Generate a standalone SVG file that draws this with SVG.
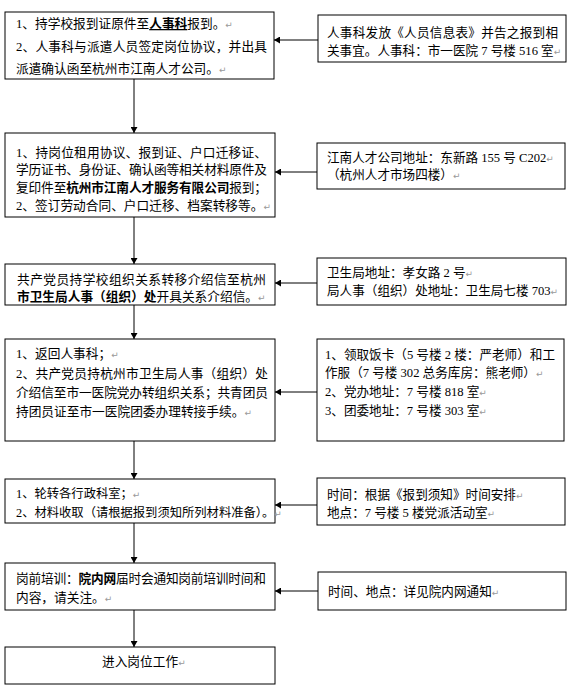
<svg xmlns="http://www.w3.org/2000/svg" width="572" height="690" viewBox="0 0 572 690">
<style>
  .box { fill: #fff; stroke: #000; stroke-width: 1; }
  .t { font-family: "Liberation Serif", "Noto Sans CJK SC", serif; fill: #000; font-size: 12.7px; }
  .l123 { font-size: 12.3px; }
  .r { font-size: 12.6px; }
  .b { font-weight: bold; }
  .pm { font-family: "DejaVu Sans", sans-serif; font-size: 9px; fill: #999; }
  .conn { stroke: #000; stroke-width: 1; fill: none; marker-end: url(#ah); }
</style>
<defs>
  <marker id="ah" viewBox="0 0 6 7" refX="6" refY="3.5" markerWidth="6" markerHeight="7" markerUnits="userSpaceOnUse" orient="auto">
    <path d="M0,0 L6,3.5 L0,7 z" fill="#000"/>
  </marker>
</defs>
<rect width="572" height="690" fill="#fff"/>

<g id="connectors">
  <line class="conn" x1="134" y1="79" x2="134" y2="133"/>
  <line class="conn" x1="134" y1="217" x2="134" y2="264"/>
  <line class="conn" x1="134" y1="305" x2="134" y2="339"/>
  <line class="conn" x1="134" y1="441" x2="134" y2="479"/>
  <line class="conn" x1="134" y1="523" x2="134" y2="563"/>
  <line class="conn" x1="134" y1="610" x2="134" y2="647"/>
  <line class="conn" x1="318" y1="40" x2="274" y2="40"/>
  <line class="conn" x1="317" y1="172" x2="275" y2="172"/>
  <line class="conn" x1="317" y1="283" x2="275" y2="283"/>
  <line class="conn" x1="317" y1="392" x2="275" y2="392"/>
  <line class="conn" x1="317" y1="505" x2="275" y2="505"/>
  <line class="conn" x1="318" y1="591" x2="275" y2="591"/>
</g>

<g id="step1">
  <rect class="box" x="5" y="12" width="269" height="67"/>
  <text class="t" x="16" y="28">1、持学校报到证原件至<tspan class="b" text-decoration="underline">人事科</tspan>报到。<tspan class="pm">↵</tspan></text>
  <text class="t" x="16" y="51" textLength="251" lengthAdjust="spacing">2、人事科与派遣人员签定岗位协议，并出具</text>
  <text class="t" x="16" y="73">派遣确认函至杭州市江南人才公司。<tspan class="pm">↵</tspan></text>
</g>

<g id="info1">
  <rect class="box" x="318" y="15" width="248" height="47"/>
  <text class="t r" x="327" y="37" textLength="231" lengthAdjust="spacing">人事科发放《人员信息表》并告之报到相</text>
  <text class="t r" x="327" y="55">关事宜。人事科：市一医院 7 号楼 516 室<tspan class="pm">↵</tspan></text>
</g>

<g id="step2">
  <rect class="box" x="5" y="133" width="270" height="84"/>
  <text class="t" x="16" y="157" textLength="251" lengthAdjust="spacing">1、持岗位租用协议、报到证、户口迁移证、</text>
  <text class="t" x="16" y="174" textLength="251" lengthAdjust="spacing">学历证书、身份证、确认函等相关材料原件及</text>
  <text class="t" x="16" y="192" textLength="251" lengthAdjust="spacing">复印件至<tspan class="b">杭州市江南人才服务有限公司</tspan>报到；</text>
  <text class="t" x="16" y="210">2、签订劳动合同、户口迁移、档案转移等。<tspan class="pm">↵</tspan></text>
</g>

<g id="info2">
  <rect class="box" x="317" y="143" width="248" height="46"/>
  <text class="t r" x="327" y="162">江南人才公司地址：东新路 155 号 C202<tspan class="pm">↵</tspan></text>
  <text class="t r" x="327" y="179">（杭州人才市场四楼）<tspan class="pm">↵</tspan></text>
</g>

<g id="step3">
  <rect class="box" x="5" y="264" width="270" height="41"/>
  <text class="t" x="17" y="284" textLength="249" lengthAdjust="spacing">共产党员持学校组织关系转移介绍信至杭州</text>
  <text class="t" x="17" y="301"><tspan class="b">市卫生局人事（组织）处</tspan>开具关系介绍信。<tspan class="pm">↵</tspan></text>
</g>

<g id="info3">
  <rect class="box" x="317" y="258" width="249" height="47"/>
  <text class="t r" x="327" y="277">卫生局地址：孝女路 2 号<tspan class="pm">↵</tspan></text>
  <text class="t r" x="327" y="295">局人事（组织）处地址：卫生局七楼 703<tspan class="pm">↵</tspan></text>
</g>

<g id="step4">
  <rect class="box" x="5" y="339" width="270" height="102"/>
  <text class="t" x="16" y="358">1、返回人事科；<tspan class="pm">↵</tspan></text>
  <text class="t" x="16" y="378" textLength="252" lengthAdjust="spacing">2、共产党员持杭州市卫生局人事（组织）处</text>
  <text class="t" x="16" y="397" textLength="252" lengthAdjust="spacing">介绍信至市一医院党办转组织关系；共青团员</text>
  <text class="t" x="16" y="416">持团员证至市一医院团委办理转接手续。<tspan class="pm">↵</tspan></text>
</g>

<g id="info4">
  <rect class="box" x="317" y="339" width="247" height="102"/>
  <text class="t r" x="325" y="359" textLength="230" lengthAdjust="spacing">1、领取饭卡（5 号楼 2 楼：严老师）和工</text>
  <text class="t r" x="325" y="377">作服（7 号楼 302 总务库房：熊老师）<tspan class="pm">↵</tspan></text>
  <text class="t r" x="325" y="396">2、党办地址：7 号楼 818 室<tspan class="pm">↵</tspan></text>
  <text class="t r" x="325" y="415">3、团委地址：7 号楼 303 室<tspan class="pm">↵</tspan></text>
</g>

<g id="step5">
  <rect class="box" x="5" y="479" width="270" height="44"/>
  <text class="t l123" x="16" y="498">1、轮转各行政科室；<tspan class="pm">↵</tspan></text>
  <text class="t l123" x="16" y="517">2、材料收取（请根据报到须知所列材料准备）。<tspan class="pm">↵</tspan></text>
</g>

<g id="info5">
  <rect class="box" x="317" y="478" width="248" height="47"/>
  <text class="t r" x="327" y="499">时间：根据《报到须知》时间安排<tspan class="pm">↵</tspan></text>
  <text class="t r" x="327" y="517">地点：7 号楼 5 楼党派活动室<tspan class="pm">↵</tspan></text>
</g>

<g id="step6">
  <rect class="box" x="5" y="563" width="270" height="47"/>
  <text class="t" x="16" y="583" textLength="250" lengthAdjust="spacing">岗前培训：<tspan class="b">院内网</tspan>届时会通知岗前培训时间和</text>
  <text class="t" x="16" y="602">内容，请关注。<tspan class="pm">↵</tspan></text>
</g>

<g id="info6">
  <rect class="box" x="318" y="572" width="248" height="38"/>
  <text class="t r" x="328" y="596">时间、地点：详见院内网通知<tspan class="pm">↵</tspan></text>
</g>

<g id="step7">
  <rect class="box" x="5" y="647" width="270" height="37"/>
  <text class="t" x="102" y="666">进入岗位工作<tspan class="pm">↵</tspan></text>
</g>
</svg>
